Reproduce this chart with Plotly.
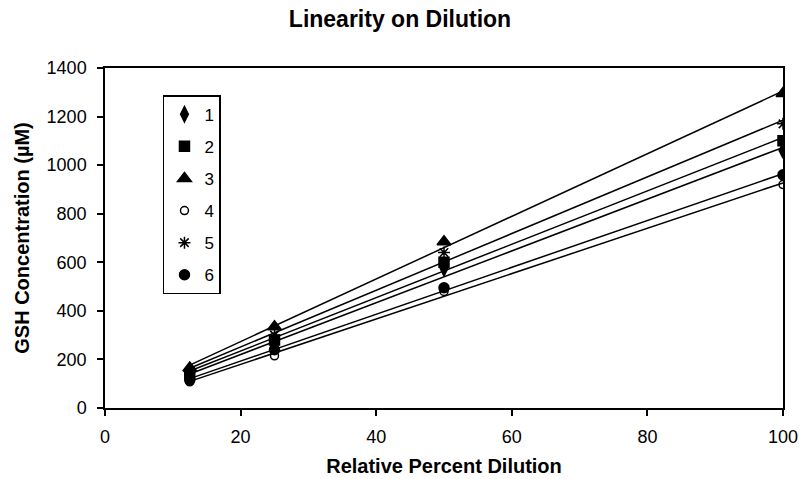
import numpy as np
import plotly.graph_objects as go

dilution = [12.5, 25, 50, 100]
series_names = ["1", "2", "3", "4", "5", "6"]
s1 = [130, 262, 575, 1060]
s2 = [140, 280, 600, 1100]
s3 = [165, 335, 685, 1295]
s4 = [108, 215, 480, 920]
s5 = [150, 300, 640, 1170]
s6 = [115, 240, 495, 960]
values = [s1, s2, s3, s4, s5, s6]
symbols = ["diamond-tall", "square", "triangle-up", "circle-open", "asterisk-open", "circle"]
sizes = [11, 10, 12, 8, 10, 10]

fig = go.Figure()
x = np.array(dilution, dtype=float)
for name, vals, sym, sz in zip(series_names, values, symbols, sizes):
    slope, intercept = np.polyfit(x, np.array(vals, dtype=float), 1)
    xs = [x.min(), x.max()]
    fig.add_trace(go.Scatter(x=xs, y=[slope * xv + intercept for xv in xs], mode="lines",
                             line=dict(color="black", width=1.5), showlegend=False, hoverinfo="skip"))
    fig.add_trace(go.Scatter(x=dilution, y=vals, mode="markers", name=name, legendgroup=name,
                             marker=dict(symbol=sym, size=sz, color="black",
                                         line=dict(color="black", width=1.5))))

fig.update_layout(
    width=800, height=479,
    margin=dict(l=105, r=17, t=68, b=71),
    paper_bgcolor="white", plot_bgcolor="white",
    font=dict(family="Liberation Sans, Arial, sans-serif", size=17, color="black"),
    title=dict(text="<b>Linearity on Dilution</b>", x=0.5, xanchor="center", y=0.96, yanchor="middle",
               font=dict(size=23)),
    legend=dict(x=0.0855, y=0.92, xanchor="left", yanchor="top", bordercolor="black", borderwidth=1.5,
                bgcolor="white", font=dict(size=17), tracegroupgap=7, itemwidth=30),
)
fig.update_xaxes(range=[0, 100], tickvals=[0, 20, 40, 60, 80, 100], showgrid=False, zeroline=False,
                 showline=True, linecolor="black", linewidth=1.5, mirror=True, automargin=False,
                 ticks="outside", ticklen=6, tickwidth=1.5, tickcolor="black",
                 tickfont=dict(size=18), ticklabelstandoff=6,
                 title=dict(text="<b>Relative Percent Dilution</b>", font=dict(size=20), standoff=13))
fig.update_yaxes(range=[0, 1400], tickvals=list(range(0, 1401, 200)), showgrid=False, zeroline=False,
                 showline=True, linecolor="black", linewidth=1.5, mirror=True, automargin=False,
                 ticks="outside", ticklen=6, tickwidth=1.5, tickcolor="black",
                 tickfont=dict(size=18), ticklabelstandoff=7,
                 title=dict(text="<b>GSH Concentration (µM)</b>", font=dict(size=20), standoff=12))

fig.write_html("out.html", config={"displayModeBar": False},
               post_script="document.body.style.margin='0';")
